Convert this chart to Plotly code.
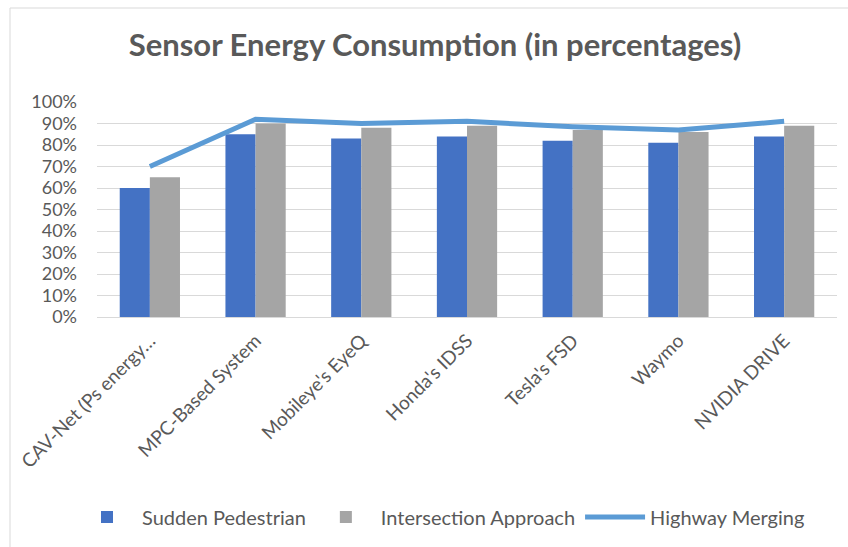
import plotly.graph_objects as go

categories = ["CAV-Net (Ps energy…", "MPC-Based System", "Mobileye's EyeQ",
              "Honda's IDSS", "Tesla's FSD", "Waymo", "NVIDIA DRIVE"]
sudden_pedestrian = [60, 85, 83, 84, 82, 81, 84]
intersection_approach = [65, 90, 88, 89, 87, 86, 89]
highway_merging = [70, 92, 90, 91, 88.5, 87, 91]
y_ticks = list(range(0, 101, 10))
y_tick_labels = [f"{v}%" for v in y_ticks]

FONT = "Lato"
TXT = "#595959"

fig = go.Figure()
fig.add_trace(go.Bar(x=categories, y=sudden_pedestrian, name="Sudden Pedestrian",
                     marker=dict(color="#4472C4", line=dict(width=0))))
fig.add_trace(go.Bar(x=categories, y=intersection_approach, name="Intersection Approach",
                     marker=dict(color="#A5A5A5", line=dict(width=0))))
fig.add_trace(go.Scatter(x=categories, y=highway_merging, name="Highway Merging",
                         mode="lines", line=dict(color="#5B9BD5", width=5)))

fig.update_layout(
    width=848, height=547,
    margin=dict(l=97, r=11, t=102, b=230),
    paper_bgcolor="white", plot_bgcolor="white",
    font=dict(family=FONT, color=TXT, size=19),
    title=dict(text="<b>Sensor Energy Consumption (in percentages)</b>",
               x=435/848, xanchor="center", xref="container",
               y=1-45/547, yanchor="middle", yref="container",
               font=dict(family=FONT, size=31, color=TXT)),
    barmode="group", bargap=0.43, bargroupgap=0,
    showlegend=True,
    legend=dict(orientation="h", x=(441-97)/740, xanchor="center",
                y=(317-517)/215, yanchor="middle", itemwidth=60,
                font=dict(family=FONT, size=20, color=TXT),
                bgcolor="rgba(0,0,0,0)"),
    shapes=[dict(type="rect", xref="paper", yref="paper",
                 x0=(10-97)/740, x1=1.2, y0=-1.5, y1=(317-8)/215,
                 line=dict(color="#d9d9d9", width=1), fillcolor="rgba(0,0,0,0)",
                 layer="below")],
)
fig.update_yaxes(range=[0, 100], tickvals=y_ticks, ticktext=y_tick_labels,
                 showgrid=True, gridcolor="#d9d9d9", gridwidth=1,
                 zeroline=True, zerolinecolor="#d9d9d9", zerolinewidth=1,
                 showline=False, ticks="", ticklabelstandoff=19,
                 tickfont=dict(family=FONT, size=18, color=TXT))
fig.update_xaxes(tickangle=-45, showgrid=False, showline=False, ticks="",
                 ticklabelstandoff=8,
                 tickfont=dict(family=FONT, size=19, color=TXT))

fig.write_html("out.html")
